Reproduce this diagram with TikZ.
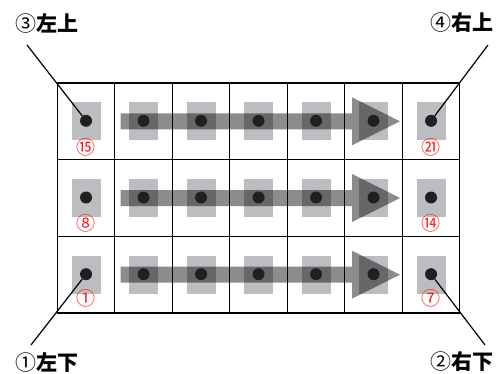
\documentclass[tikz,border=0pt]{standalone}
\usepackage{fontspec}
\setmainfont{Noto Sans CJK JP}
\definecolor{cellgray}{HTML}{BCBDC0}
\definecolor{dotblack}{HTML}{231F20}
\definecolor{numred}{HTML}{FF1A1A}
\tikzset{
  cellbox/.style={fill=cellgray, minimum width=29pt, minimum height=38pt, inner sep=0pt},
  blackdot/.style={circle, fill=dotblack, minimum size=12pt, inner sep=0pt},
  numlabel/.style={text=numred, font=\fontsize{19}{19}\selectfont, inner sep=0pt},
  cornerlabel/.style={font=\fontsize{21}{21}\selectfont, inner sep=0pt},
  leader/.style={line width=1.2pt},
  gridline/.style={line width=1.1pt}
}
\begin{document}
\begin{tikzpicture}[x=1pt, y=-1pt]
        \useasboundingbox (0,0) rectangle (497,374);

        % Grid: 7 columns, 3 rows
        \foreach \c in {0,...,7}
            \draw[gridline] ({57.3+57.5*\c}, 83) -- ({57.3+57.5*\c}, 313);
        \foreach \r in {0,...,3}
            \draw[gridline] (57.3, {83+76.67*\r}) -- (459.8, {83+76.67*\r});

        % Gray boxes, arrows and dots in each row
        \foreach \r/\y in {1/121.3, 2/198, 3/274.7} {
            \foreach \c in {1,...,7}
                \node[cellbox] (b-\r-\c) at ({57.3+57.5*(\c-0.5)}, \y) {};
            \fill[black, fill opacity=0.45] (120.7,\y-8) -- (352,\y-8) -- (352,\y-24)
                -- (400,\y) -- (352,\y+24) -- (352,\y+8) -- (120.7,\y+8) -- cycle;
            \foreach \c in {1,...,7}
                \node[blackdot] (d-\r-\c) at ({57.3+57.5*(\c-0.5)}, \y-0.5) {};
        }

        % Red order numbers
        \node[numlabel] (n-1-1) at (86, 147) {⑮};
        \node[numlabel] (n-1-7) at (431, 147) {㉑};
        \node[numlabel] (n-2-1) at (86, 223.5) {⑧};
        \node[numlabel] (n-2-7) at (431, 223.5) {⑭};
        \node[numlabel] (n-3-1) at (86, 298) {①};
        \node[numlabel] (n-3-7) at (431, 298) {⑦};

        % Corner labels with leader lines
        \node[cornerlabel] (lb-tl) at (46.5, 23) {③{\bfseries 左上}};
        \node[cornerlabel] (lb-tr) at (462, 23) {④{\bfseries 右上}};
        \node[cornerlabel] (lb-bl) at (46.5, 362) {①{\bfseries 左下}};
        \node[cornerlabel] (lb-br) at (462, 362) {②{\bfseries 右下}};
        \coordinate (ld-tl) at (27, 45);
        \coordinate (ld-tr) at (488, 45);
        \coordinate (ld-bl) at (31, 345);
        \coordinate (ld-br) at (485, 345);
        \draw[leader] (ld-tl) -- (d-1-1);
        \draw[leader] (ld-tr) -- (d-1-7);
        \draw[leader] (ld-bl) -- (d-3-1);
        \draw[leader] (ld-br) -- (d-3-7);
\end{tikzpicture}
\end{document}
